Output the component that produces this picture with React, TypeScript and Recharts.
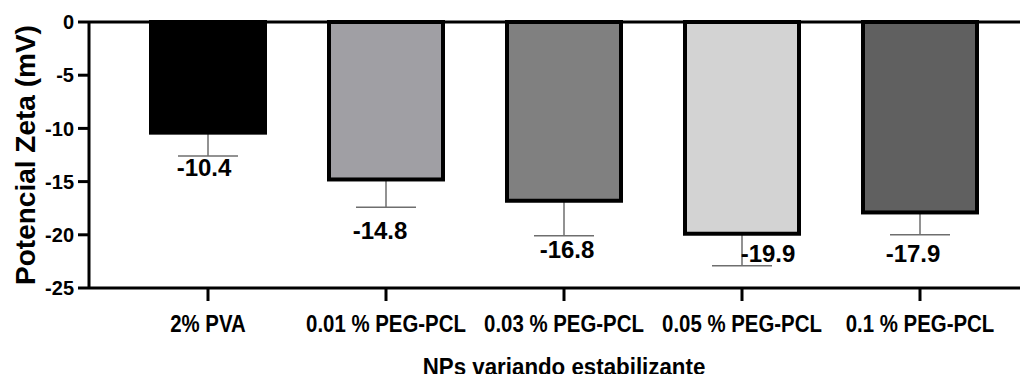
import React from "react";
import { BarChart, Bar, XAxis, YAxis, ReferenceLine, Label } from "recharts";

const categories = ["2% PVA", "0.01 % PEG-PCL", "0.03 % PEG-PCL", "0.05 % PEG-PCL", "0.1 % PEG-PCL"];
const zetaValues = [-10.4, -14.8, -16.8, -19.9, -17.9];
const zetaErrors = [2.2, 2.6, 3.3, 3.0, 2.1];
const yTicks = [0, -5, -10, -15, -20, -25];

const barFills = ["#000000", "#a09fa4", "#808080", "#d3d3d3", "#606060"];
// hand-placed value labels in the original, relative to the error cap
const labelNudge = [
  { dx: -4, dy: 11 },
  { dx: -6, dy: 23 },
  { dx: 3, dy: 14 },
  { dx: 26, dy: -12 },
  { dx: -7, dy: 19 },
];

const data = categories.map((name, i) => ({
  name,
  value: zetaValues[i],
  err: zetaErrors[i],
}));

const sans = "'Liberation Sans', Arial, Helvetica, sans-serif";

function BarWithError(props: any) {
  const { x, y, width, height, index, payload } = props;
  const top = Math.min(y, y + height);
  const bottom = Math.max(y, y + height);
  const pxPerUnit = Math.abs(height) / Math.abs(payload.value);
  const cx = x + width / 2;
  const capY = bottom + payload.err * pxPerUnit;
  const nudge = labelNudge[index] ?? { dx: 0, dy: 12 };
  return (
    <g>
      <line x1={cx} x2={cx} y1={bottom} y2={capY} stroke="#6e6e6e" strokeWidth={1.5} />
      <line x1={cx - 30} x2={cx + 30} y1={capY} y2={capY} stroke="#6e6e6e" strokeWidth={1.5} />
      <rect
        x={x}
        y={top}
        width={width}
        height={bottom - top}
        fill={barFills[index]}
        stroke="#000"
        strokeWidth={4}
      />
      <text
        x={cx + nudge.dx}
        y={capY + nudge.dy + 8.5}
        textAnchor="middle"
        fontFamily={sans}
        fontWeight="bold"
        fontSize={24}
        fill="#000"
      >
        {payload.value.toFixed(1)}
      </text>
    </g>
  );
}

// condensed look of the original's axis text
function CategoryTick(props: any) {
  const { x, y, payload } = props;
  return (
    <g transform={`translate(${x},${y})`}>
      <text
        transform="scale(0.85,1)"
        textAnchor="middle"
        dy="0.71em"
        fontFamily={sans}
        fontWeight="bold"
        fontSize={24}
        fill="#000"
      >
        {payload.value}
      </text>
    </g>
  );
}

export default function App() {
  return (
    <div style={{ margin: -8, width: 1028, height: 382, overflow: "hidden", background: "#fff" }}>
      <BarChart
        width={1040}
        height={382}
        data={data}
        margin={{ top: 22, right: 1, left: 0, bottom: 0 }}
      >
        <XAxis
          dataKey="name"
          height={94}
          padding={{ left: 30, right: 30 }}
          axisLine={{ stroke: "#000", strokeWidth: 3 }}
          tickLine={{ stroke: "#000", strokeWidth: 3 }}
          tickSize={13}
          tickMargin={14}
          interval={0}
          tick={<CategoryTick />}
        >
          <Label
            content={({ viewBox }: any) => (
              <g transform={`translate(${viewBox.x + viewBox.width / 2},375)`}>
                <text
                  transform="scale(0.93,1)"
                  textAnchor="middle"
                  fontFamily={sans}
                  fontWeight="bold"
                  fontSize={24}
                  fill="#000"
                >
                  NPs variando estabilizante
                </text>
              </g>
            )}
          />
        </XAxis>
        <YAxis
          type="number"
          domain={[-25, 0]}
          ticks={yTicks}
          width={89}
          interval={0}
          axisLine={{ stroke: "#000", strokeWidth: 3 }}
          tickLine={{ stroke: "#000", strokeWidth: 3 }}
          tickSize={11}
          tickMargin={4}
          tick={{ fill: "#000", fontFamily: sans, fontWeight: "bold", fontSize: 20 }}
        >
          <Label
            content={({ viewBox }: any) => (
              <text
                x={25}
                y={viewBox.y + viewBox.height / 2}
                transform={`rotate(-90, 25, ${viewBox.y + viewBox.height / 2})`}
                textAnchor="middle"
                dominantBaseline="central"
                fontFamily={sans}
                fontWeight="bold"
                fontSize={28}
                fill="#000"
              >
                Potencial Zeta (mV)
              </text>
            )}
          />
        </YAxis>
        <Bar dataKey="value" barSize={114} shape={<BarWithError />} isAnimationActive={false} />
        <ReferenceLine y={0} stroke="#000" strokeWidth={3} />
      </BarChart>
    </div>
  );
}
